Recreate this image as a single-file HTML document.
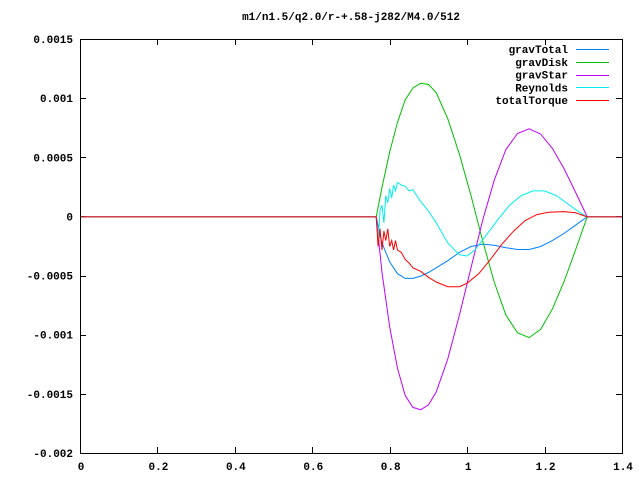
<!DOCTYPE html>
<html><head><meta charset="utf-8"><style>
html,body{margin:0;padding:0;background:#fff}
svg{display:block}
text{font-family:"Liberation Mono",monospace;font-weight:bold;font-size:11px;fill:#000}
</style></head><body>
<svg id="chart" width="640" height="480" xmlns="http://www.w3.org/2000/svg">
<rect x="0" y="0" width="640" height="480" fill="#fff"/>
<text x="351" y="20" text-anchor="middle">m1/n1.5/q2.0/r-+.58-j282/M4.0/512</text>
<g id="axes"></g>
<g id="series"></g>
<g id="legend"></g>
<rect x="80.5" y="39.5" width="542" height="414" fill="none" stroke="#000" stroke-width="1"/>
</svg>
<script>
const xTicks=[0,0.2,0.4,0.6,0.8,1,1.2,1.4];
const xTickLabels=["0","0.2","0.4","0.6","0.8","1","1.2","1.4"];
const yTicks=[0.0015,0.001,0.0005,0,-0.0005,-0.001,-0.0015,-0.002];
const yTickLabels=["0.0015","0.001","0.0005","0","-0.0005","-0.001","-0.0015","-0.002"];
const seriesNames=["gravTotal","gravDisk","gravStar","Reynolds","totalTorque"];
const seriesColors=["#0080ff","#00c000","#c000ff","#00eeee","#ff0000"];
const xGrav=[0,0.765,0.78,0.80,0.82,0.84,0.86,0.88,0.90,0.92,0.95,0.98,1.01,1.04,1.07,1.10,1.13,1.16,1.19,1.22,1.25,1.28,1.31,1.4];
const gravTotal=[0,0,-2.2,-3.8,-4.8,-5.2,-5.2,-5.0,-4.7,-4.3,-3.7,-3.0,-2.5,-2.3,-2.4,-2.6,-2.75,-2.75,-2.5,-2.0,-1.4,-0.7,0,0];
const gravDisk=[0,0,2.5,5.5,8.0,9.9,10.9,11.3,11.2,10.5,8.3,5.3,1.8,-2.0,-5.5,-8.3,-9.8,-10.2,-9.5,-7.8,-5.5,-2.8,0,0];
const gravStar=[0,0,-4.7,-9.3,-12.8,-15.1,-16.1,-16.3,-15.9,-14.8,-12.0,-8.3,-4.3,-0.3,3.1,5.7,7.05,7.45,7.0,5.8,4.1,2.1,0,0];
const xReyn=[0,0.765,0.77,0.775,0.78,0.785,0.79,0.795,0.80,0.805,0.81,0.815,0.82,0.83,0.84,0.85,0.86,0.88,0.90,0.92,0.95,0.98,1.00,1.02,1.05,1.08,1.11,1.14,1.17,1.20,1.23,1.26,1.29,1.31,1.4];
const reynolds=[0,0,-2.0,0.5,1.0,-0.5,1.8,1.2,2.4,1.6,2.7,2.2,2.9,2.7,2.6,2.2,2.3,1.3,0.5,-0.5,-2.2,-3.2,-3.3,-2.8,-1.5,-0.2,1.0,1.8,2.2,2.2,1.8,1.1,0.4,0,0];
const xTorque=[0,0.765,0.77,0.775,0.78,0.785,0.79,0.795,0.80,0.805,0.81,0.815,0.82,0.83,0.84,0.85,0.86,0.88,0.90,0.92,0.95,0.98,1.00,1.03,1.06,1.09,1.12,1.15,1.18,1.21,1.25,1.28,1.31,1.4];
const totalTorque=[0,0,-2.5,-1.0,-2.8,-1.2,-2.0,-1.0,-2.5,-2.0,-2.8,-2.0,-2.8,-3.0,-3.6,-3.9,-4.3,-4.6,-5.1,-5.5,-5.9,-5.9,-5.6,-4.8,-3.6,-2.3,-1.2,-0.3,0.2,0.4,0.45,0.35,0,0];
const UNIT=1e-4;

const NS="http://www.w3.org/2000/svg";
const L=80,R=622,T=39,B=453,X0=0,X1=1.4,Y0=-0.002,Y1=0.0015;
function sx(v){return L+(v-X0)/(X1-X0)*(R-L);}
function sy(v){return B-(v-Y0)/(Y1-Y0)*(B-T);}
function mk(tag,attrs,parent){const e=document.createElementNS(NS,tag);for(const k in attrs)e.setAttribute(k,attrs[k]);parent.appendChild(e);return e;}
const axes=document.getElementById('axes');
xTicks.forEach((v,i)=>{
  const x=Math.round(sx(v))+0.5;
  const t1=mk('line',{x1:x,x2:x,y1:B,y2:B-6,stroke:'#000'},axes);
  
  
  const t2=mk('line',{x1:x,x2:x,y1:T,y2:T+6,stroke:'#000'},axes);
  
  
  const lb=mk('text',{x:sx(v)+1,y:470,'text-anchor':'middle'},axes);
  lb.textContent=xTickLabels[i];
  
  
});
yTicks.forEach((v,i)=>{
  const y=Math.round(sy(v))+0.5;
  const t1=mk('line',{x1:L,x2:L+6,y1:y,y2:y,stroke:'#000'},axes);
  
  
  const t2=mk('line',{x1:R,x2:R-6,y1:y,y2:y,stroke:'#000'},axes);
  
  
  const lb=mk('text',{x:73,y:sy(v)+4,'text-anchor':'end'},axes);
  lb.textContent=yTickLabels[i];
  
  
});
const sg=document.getElementById('series');
const all=[[xGrav,gravTotal],[xGrav,gravDisk],[xGrav,gravStar],[xReyn,reynolds],[xTorque,totalTorque]];
all.forEach((s,i)=>{
  const pts=s[0].map((x,j)=>sx(x).toFixed(1)+','+(sy(s[1][j]*UNIT)+0.5).toFixed(1)).join(' ');
  const p=mk('polyline',{points:pts,fill:'none',stroke:seriesColors[i],'stroke-width':1},sg);
  
  
});
const lg=document.getElementById('legend');
seriesNames.forEach((n,i)=>{
  const y=49+i*12.75;
  const t=mk('text',{x:568,y:y+4,'text-anchor':'end'},lg);
  t.textContent=n;
  
  
  const l=mk('line',{x1:576,x2:609,y1:Math.round(y)+0.5,y2:Math.round(y)+0.5,stroke:seriesColors[i]},lg);
  
  
});
</script>
</body></html>
